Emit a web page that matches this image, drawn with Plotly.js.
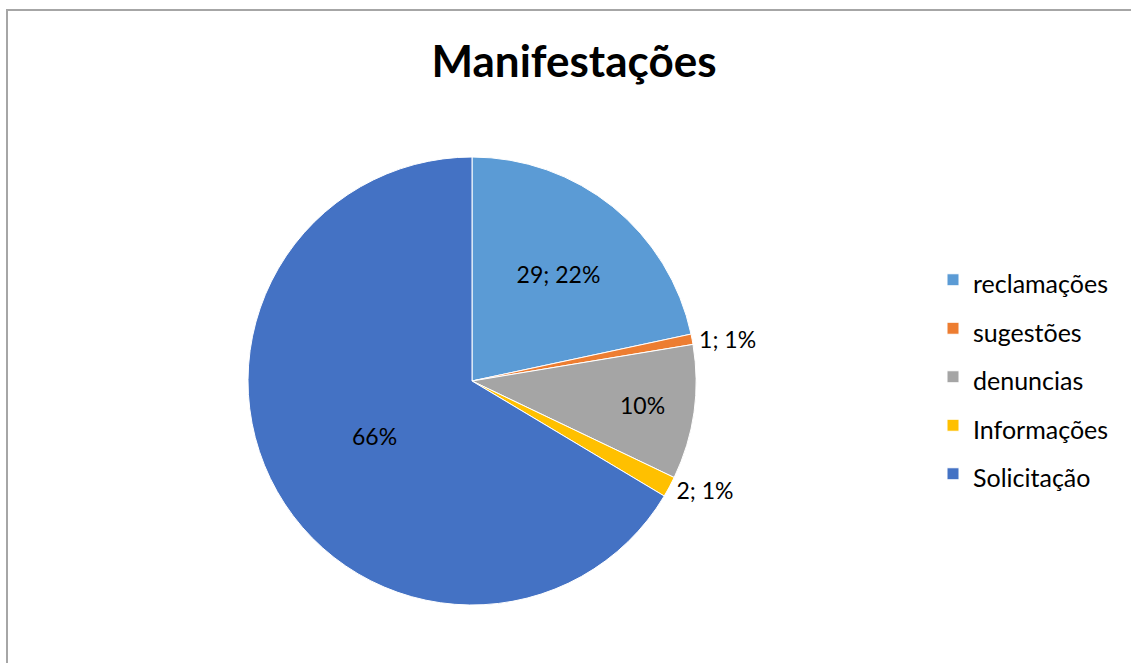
<!DOCTYPE html>
<html>
<head>
<meta charset="utf-8">
<script src="https://cdn.plot.ly/plotly-3.0.1.min.js"></script>
<style>
  html, body { margin: 0; padding: 0; background: #fff; overflow: hidden; }
  #chart { width: 1131px; height: 663px; }
</style>
</head>
<body>
<div id="chart"></div>
<script>
const categories = ['reclamações', 'sugestões', 'denuncias', 'Informações', 'Solicitação'];
const values = [29, 1, 13, 2, 89];
const dataLabels = ['29; 22%', '1; 1%', '10%', '2; 1%', '66%'];
const labelPositions = ['inside', 'outside', 'inside', 'outside', 'inside'];
const colors = ['#5B9BD5', '#ED7D31', '#A5A5A5', '#FFC000', '#4472C4'];

const W = 1131, H = 663;
const cx = 472, r = 224;
const mt = 157, mb = 58;
const ph = H - mt - mb;
const py = p => (H - mb - p) / ph;

const trace = {
  type: 'pie',
  labels: categories.map(c => '<span style="font-size:25px">' + c + '</span>'),
  values: values,
  text: dataLabels,
  textinfo: 'text',
  textposition: labelPositions,
  insidetextorientation: 'horizontal',
  sort: false,
  direction: 'clockwise',
  rotation: 0,
  marker: { colors: colors, line: { color: '#ffffff', width: 1 } },
  textfont: { family: 'Lato, sans-serif', size: 23, color: '#000000' },
  insidetextfont: { family: 'Lato, sans-serif', size: 23, color: '#000000' },
  outsidetextfont: { family: 'Lato, sans-serif', size: 23, color: '#000000' },
  domain: { x: [(cx - r) / W, (cx + r) / W], y: [0, 1] },
  hoverinfo: 'none'
};

const layout = {
  width: W, height: H,
  margin: { l: 0, r: 0, t: mt, b: mb },
  paper_bgcolor: '#ffffff',
  plot_bgcolor: 'rgba(0,0,0,0)',
  font: { family: 'Lato, sans-serif', color: '#000000' },
  title: {
    text: '<b>Manifestações</b>',
    font: { family: 'Lato, sans-serif', size: 44, color: '#000000' },
    x: 574 / W, xref: 'paper', xanchor: 'center',
    y: 1 - 62 / H, yref: 'container', yanchor: 'middle'
  },
  shapes: [
    { type: 'line', xref: 'paper', yref: 'paper', x0: 7 / W, x1: 1.0, y0: py(10), y1: py(10),
      line: { color: '#a6a6a6', width: 2 } },
    { type: 'line', xref: 'paper', yref: 'paper', x0: 7 / W, x1: 7 / W, y0: py(9), y1: py(680),
      line: { color: '#a6a6a6', width: 2 } }
  ],
  showlegend: true,
  legend: {
    x: 933 / W, xanchor: 'left',
    y: 0.5 + 4 / ph, yanchor: 'middle',
    font: { family: 'Lato, sans-serif', size: 35, color: '#000000' },
    bgcolor: 'rgba(0,0,0,0)'
  }
};

Plotly.newPlot('chart', [trace], layout, { displayModeBar: false, staticPlot: true });
</script>
</body>
</html>
